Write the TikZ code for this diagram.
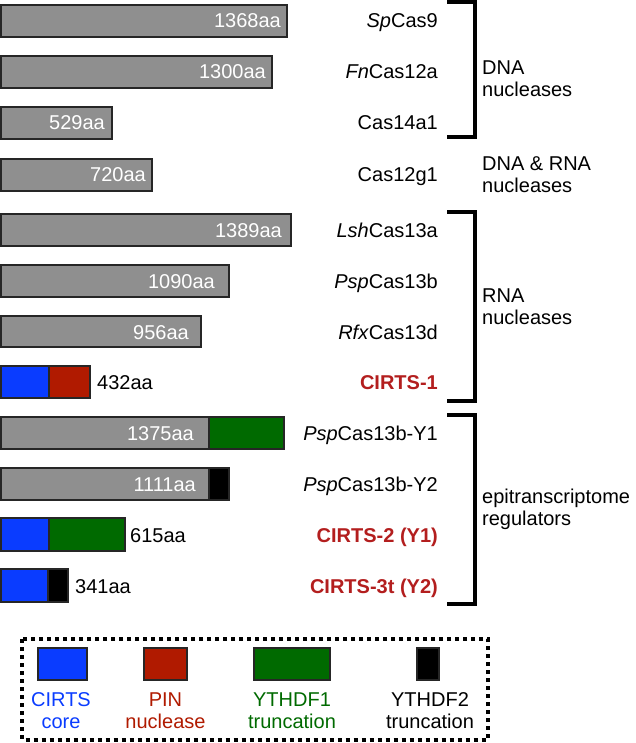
\documentclass[tikz,border=0pt]{standalone}
\usepackage{fontspec}
\setmainfont{Liberation Sans}
\definecolor{barGray}{HTML}{8F8F8F}
\definecolor{coreBlue}{HTML}{0A3CFF}
\definecolor{pinRed}{HTML}{B01A00}
\definecolor{ythOneGreen}{HTML}{006A00}
\definecolor{cirtsRed}{HTML}{B31E1E}
\newcommand{\lblsize}{\fontsize{20}{22}\selectfont}
\begin{document}
\begin{tikzpicture}[x=1pt,y=-1pt,font=\lblsize,
  bar/.style={draw=black!85,line width=1.5pt},
  inlen/.style={anchor=base east,text=white,inner sep=0pt},
  outlen/.style={anchor=base west,inner sep=0pt},
  protein/.style={anchor=base east,inner sep=0pt},
  cirts/.style={protein,text=cirtsRed,font=\lblsize\bfseries},
  group/.style={anchor=base west,align=left,inner sep=0pt},
  bracket/.style={line width=4pt},
  legendbox/.style={line width=4pt,dash pattern=on 4pt off 4pt},
  legendtext/.style={anchor=base,align=center,inner sep=0pt}]
\useasboundingbox (0,0) rectangle (635,743);

% domain bars
\draw[bar,fill=barGray] (1,5) rectangle (287,37);
\draw[bar,fill=barGray] (1,56) rectangle (272,88);
\draw[bar,fill=barGray] (1,107) rectangle (112,139);
\draw[bar,fill=barGray] (1,159) rectangle (152,191);
\draw[bar,fill=barGray] (1,214) rectangle (291,246);
\draw[bar,fill=barGray] (1,265) rectangle (229,297);
\draw[bar,fill=barGray] (1,316) rectangle (201,347);
\draw[bar,fill=coreBlue] (1,366) rectangle (49,398);
\draw[bar,fill=pinRed] (49,366) rectangle (90,398);
\draw[bar,fill=barGray] (1,417) rectangle (209,449);
\draw[bar,fill=ythOneGreen] (209,417) rectangle (284,449);
\draw[bar,fill=barGray] (1,468) rectangle (209,500);
\draw[bar,fill=black] (209,468) rectangle (229,500);
\draw[bar,fill=coreBlue] (1,518) rectangle (49,551);
\draw[bar,fill=ythOneGreen] (49,518) rectangle (125,551);
\draw[bar,fill=coreBlue] (1,569) rectangle (48,602);
\draw[bar,fill=black] (48,569) rectangle (68,602);

% lengths
\node[inlen] (lenSp) at (281,28) {1368aa};
\node[inlen] (lenFn) at (266,79) {1300aa};
\node[inlen] (lenCasA) at (105,130) {529aa};
\node[inlen] (lenCasG) at (146,182) {720aa};
\node[inlen] (lenLsh) at (282,237) {1389aa};
\node[inlen] (lenPsp) at (215,288) {1090aa};
\node[inlen] (lenRfx) at (189,339) {956aa};
\node[outlen] (lenCirtsA) at (97,389) {432aa};
\node[inlen] (lenYA) at (194,440) {1375aa};
\node[inlen] (lenYB) at (196,491) {1111aa};
\node[outlen] (lenCirtsB) at (130,542) {615aa};
\node[outlen] (lenCirtsC) at (75,593) {341aa};

% protein names
\node[protein] (nameSp) at (438,28) {\textit{Sp}Cas9};
\node[protein] (nameFn) at (438,79) {\textit{Fn}Cas12a};
\node[protein] (nameCasA) at (438,130) {Cas14a1};
\node[protein] (nameCasG) at (438,182) {Cas12g1};
\node[protein] (nameLsh) at (438,237) {\textit{Lsh}Cas13a};
\node[protein] (namePsp) at (438,288) {\textit{Psp}Cas13b};
\node[protein] (nameRfx) at (438,339) {\textit{Rfx}Cas13d};
\node[cirts] (nameCirtsA) at (438,389) {CIRTS-1};
\node[protein] (nameYA) at (438,440) {\textit{Psp}Cas13b-Y1};
\node[protein] (nameYB) at (438,491) {\textit{Psp}Cas13b-Y2};
\node[cirts] (nameCirtsB) at (438,542) {CIRTS-2 (Y1)};
\node[cirts] (nameCirtsC) at (438,593) {CIRTS-3t (Y2)};

% groups
\draw[bracket] (447,2) -| (474.5,137.5) -- (447,137.5);
\draw[bracket] (447,212) -| (474.5,401) -- (447,401);
\draw[bracket] (447,414.5) -| (474.5,604) -- (447,604);
\node[group] (grpDna) at (482,97) {DNA\\nucleases};
\node[group] (grpBoth) at (482,193) {DNA \& RNA\\nucleases};
\node[group] (grpRna) at (482,324) {RNA\\nucleases};
\node[group] (grpEpi) at (482,525) {epitranscriptome\\regulators};

% legend
\draw[legendbox] (22,639) rectangle (488,739.5);
\draw[bar,fill=coreBlue] (38,648) rectangle (87,680);
\draw[bar,fill=pinRed] (144,648) rectangle (187,680);
\draw[bar,fill=ythOneGreen] (254,648) rectangle (330,680);
\draw[bar,fill=black] (417,648) rectangle (439,680);
\node[legendtext,text=coreBlue] (keyCore) at (61,728) {CIRTS\\core};
\node[legendtext,text=pinRed] (keyPin) at (165.5,728) {PIN\\nuclease};
\node[legendtext,text=ythOneGreen] (keyYA) at (292,728) {YTHDF1\\truncation};
\node[legendtext] (keyYB) at (430,728) {YTHDF2\\truncation};
\end{tikzpicture}
\end{document}
